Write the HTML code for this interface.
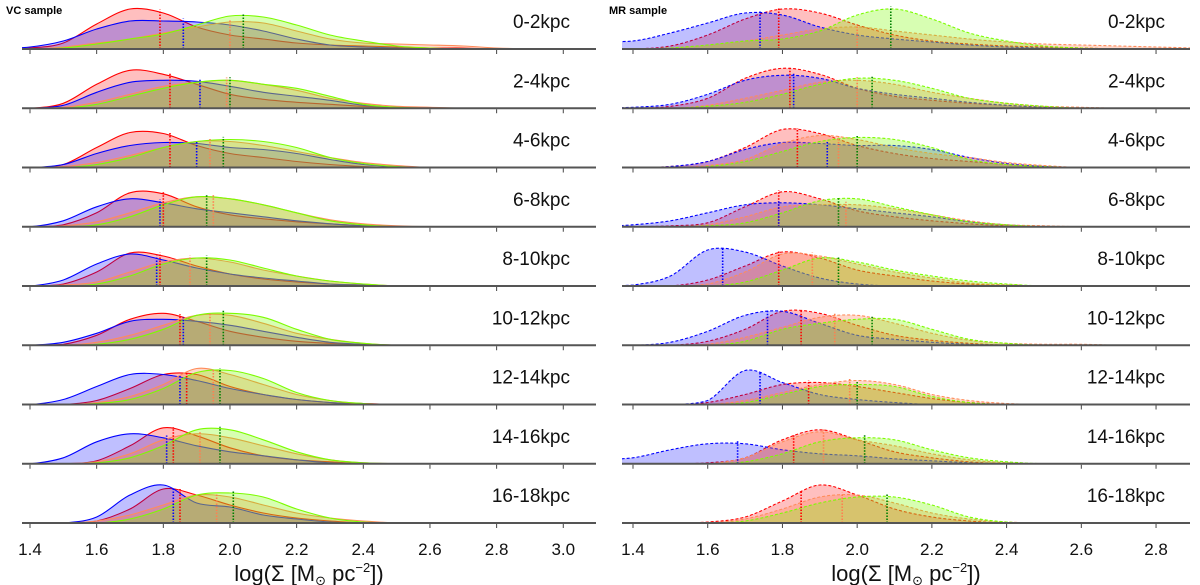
<!DOCTYPE html>
<html><head><meta charset="utf-8"><style>
html,body{margin:0;padding:0;background:#fff;}
svg{display:block;font-family:"Liberation Sans","DejaVu Sans",sans-serif;}
</style></head><body>
<svg id="chart" width="1200" height="585" viewBox="0 0 1200 585" xmlns="http://www.w3.org/2000/svg">
<defs>
<clipPath id="clipL"><rect x="22" y="0" width="574" height="585"/></clipPath>
<clipPath id="clipR"><rect x="622" y="0" width="568" height="585"/></clipPath>
</defs>
<text x="6" y="14" font-size="11" font-weight="bold">VC sample</text>
<text x="609" y="14" font-size="11" font-weight="bold">MR sample</text>
<g id="gL" clip-path="url(#clipL)"></g>
<g id="gR" clip-path="url(#clipR)"></g>
<g id="axes"></g>
</svg>
<script>
const rowLabels = ["0-2kpc","2-4kpc","4-6kpc","6-8kpc","8-10kpc","10-12kpc","12-14kpc","14-16kpc","16-18kpc"];
const gridX = [1.3,1.4,1.5,1.6,1.7,1.8,1.9,2.0,2.1,2.2,2.3,2.4,2.5,2.6,2.7,2.8,2.9,3.0];
const ticksL = ["1.4","1.6","1.8","2.0","2.2","2.4","2.6","2.8","3.0"];
const ticksR = ["1.4","1.6","1.8","2.0","2.2","2.4","2.6","2.8"];

const vcRed = [
[0,1,6,25,40,36,22,14,10,6,4,3,2,1,1,0,0,0],
[0,0,5,24,38,34,24,14,9,6,4,2,1,0,0,0,0,0],
[0,0,3,20,35,34,22,14,10,6,3,1,0,0,0,0,0,0],
[0,0,2,14,34,33,20,12,8,5,3,1,0,0,0,0,0,0],
[0,0,2,14,33,30,20,12,7,4,2,1,0,0,0,0,0,0],
[0,0,1,10,26,32,24,14,8,4,2,1,0,0,0,0,0,0],
[0,0,0,4,16,30,30,18,10,5,2,1,0,0,0,0,0,0],
[0,0,0,3,18,36,28,16,8,4,2,0,0,0,0,0,0,0],
[0,0,0,2,14,34,28,18,10,5,2,0,0,0,0,0,0,0]];
const vcBlue = [
[0,2,8,20,28,28,27,24,18,10,4,2,1,0,0,0,0,0],
[0,0,3,16,26,28,27,22,16,12,8,3,1,0,0,0,0,0],
[0,0,3,14,22,25,24,20,18,14,8,3,1,0,0,0,0,0],
[0,0,6,20,28,24,18,14,10,6,3,1,0,0,0,0,0,0],
[0,0,6,22,32,26,18,12,8,5,2,1,0,0,0,0,0,0],
[0,0,3,12,24,26,24,20,14,8,3,1,0,0,0,0,0,0],
[0,0,5,18,30,30,24,16,10,5,2,0,0,0,0,0,0,0],
[0,0,6,22,30,26,18,12,8,4,1,0,0,0,0,0,0,0],
[0,0,0,6,28,38,20,16,8,4,1,0,0,0,0,0,0,0]];
const vcCoral = [
[0,0,2,6,10,16,22,27,26,18,10,6,5,4,3,1,0,0],
[0,0,1,6,14,22,26,28,24,18,10,5,2,1,0,0,0,0],
[0,0,1,5,12,20,26,26,22,16,10,5,2,0,0,0,0,0],
[0,0,1,5,14,24,30,28,22,14,7,3,1,0,0,0,0,0],
[0,0,1,4,14,24,28,24,16,10,5,2,0,0,0,0,0,0],
[0,0,0,3,10,20,30,30,22,12,6,2,0,0,0,0,0,0],
[0,0,0,2,8,20,36,30,20,10,4,1,0,0,0,0,0,0],
[0,0,0,2,10,24,30,26,18,10,4,1,0,0,0,0,0,0],
[0,0,0,2,8,18,28,26,18,10,5,2,0,0,0,0,0,0]];
const vcGreen = [
[0,0,1,5,10,15,24,33,32,24,14,8,3,1,0,0,0,0],
[0,0,0,4,12,20,26,28,24,20,12,4,1,0,0,0,0,0],
[0,0,0,3,10,20,26,28,26,20,10,4,1,0,0,0,0,0],
[0,0,0,2,10,22,30,28,22,14,6,2,0,0,0,0,0,0],
[0,0,0,2,10,22,28,26,18,10,5,2,0,0,0,0,0,0],
[0,0,0,1,6,16,30,32,28,16,6,2,0,0,0,0,0,0],
[0,0,0,1,5,16,32,34,26,12,4,1,0,0,0,0,0,0],
[0,0,0,1,6,18,34,34,24,12,4,1,0,0,0,0,0,0],
[0,0,0,0,4,14,28,30,26,14,5,1,0,0,0,0,0,0]];
const vcMedRed = [1.79,1.82,1.82,1.80,1.79,1.85,1.87,1.83,1.85];
const vcMedBlue = [1.86,1.91,1.90,1.79,1.78,1.86,1.85,1.81,1.83];
const vcMedCoral = [2.00,1.99,1.94,1.95,1.88,1.94,1.95,1.91,1.96];
const vcMedGreen = [2.04,2.00,1.98,1.93,1.93,1.98,1.97,1.97,2.01];

const mrRed = [
[0,0,3,14,30,40,36,24,14,8,5,3,2,1,0,0,0,0],
[0,0,2,10,30,40,34,20,12,8,5,3,1,0,0,0,0,0],
[0,0,1,6,20,38,34,22,14,9,6,3,1,0,0,0,0,0],
[0,0,1,4,20,35,28,16,10,6,3,1,0,0,0,0,0,0],
[0,0,0,6,20,34,28,16,10,5,2,1,0,0,0,0,0,0],
[0,0,0,4,16,34,32,20,10,5,2,0,0,0,0,0,0,0],
[0,0,0,2,10,20,22,18,12,6,2,0,0,0,0,0,0,0],
[0,0,0,1,6,24,34,24,12,6,2,0,0,0,0,0,0,0],
[0,0,0,1,6,22,38,28,14,6,2,0,0,0,0,0,0,0]];
const mrBlue = [
[8,8,16,26,36,34,22,14,10,7,4,2,1,0,0,0,0,0],
[0,1,4,14,28,33,30,20,14,10,6,3,1,0,0,0,0,0],
[0,0,1,6,18,25,24,22,22,18,10,4,1,0,0,0,0,0],
[0,2,6,14,22,24,22,18,14,10,5,2,0,0,0,0,0,0],
[0,1,10,36,34,20,8,2,0,0,0,0,0,0,0,0,0,0],
[0,0,3,14,30,34,22,10,6,3,1,0,0,0,0,0,0,0],
[0,0,0,4,34,22,10,5,2,0,0,0,0,0,0,0,0,0],
[4,6,14,20,20,14,10,8,5,3,1,0,0,0,0,0,0,0],
[0,0,0,0,0,0,0,0,0,0,0,0,0,0,0,0,0,0]];
const mrCoral = [
[0,0,1,4,8,14,20,22,18,14,10,7,5,4,3,2,1,0],
[0,0,0,3,10,18,26,28,24,16,10,5,2,1,0,0,0,0],
[0,0,0,2,8,24,32,28,20,14,10,5,2,0,0,0,0,0],
[0,0,0,2,10,20,22,22,18,12,6,2,1,0,0,0,0,0],
[0,0,0,2,14,32,30,22,14,8,3,1,0,0,0,0,0,0],
[0,0,0,1,8,18,28,30,22,12,5,2,1,1,0,0,0,0],
[0,0,0,0,4,12,20,24,20,10,4,1,0,0,0,0,0,0],
[0,0,0,0,6,22,32,24,18,10,4,1,0,0,0,0,0,0],
[0,0,0,0,4,14,26,28,20,10,4,1,0,0,0,0,0,0]];
const mrGreen = [
[0,0,1,4,8,10,18,34,40,30,16,8,3,1,0,0,0,0],
[0,0,0,2,6,14,24,30,28,20,10,5,2,0,0,0,0,0],
[0,0,0,1,6,16,26,30,28,20,8,3,1,0,0,0,0,0],
[0,0,0,1,4,14,26,28,20,12,5,2,0,0,0,0,0,0],
[0,0,0,0,4,16,28,24,16,10,5,2,0,0,0,0,0,0],
[0,0,0,0,4,16,22,26,26,16,6,2,0,0,0,0,0,0],
[0,0,0,0,2,10,18,20,18,8,2,0,0,0,0,0,0,0],
[0,0,0,0,2,10,22,26,24,14,6,2,0,0,0,0,0,0],
[0,0,0,0,2,10,20,26,26,18,6,1,0,0,0,0,0,0]];
const mrMedRed = [1.79,1.82,1.84,1.79,1.79,1.85,1.87,1.83,1.85];
const mrMedBlue = [1.74,1.83,1.92,1.79,1.64,1.76,1.74,1.68,null];
const mrMedCoral = [2.00,2.00,1.95,1.97,1.88,1.94,1.98,1.91,1.96];
const mrMedGreen = [2.09,2.04,2.00,1.95,1.95,2.04,2.00,2.02,2.08];

const NS = "http://www.w3.org/2000/svg";
const baseY = r => 49 + r * 59.25;
const xL = v => 30 + (v - 1.4) * 333.3;
const xR = v => 633 + (v - 1.4) * 373.6;

function interp(h, v) {
  const t = (v - gridX[0]) / 0.1;
  const i = Math.max(0, Math.min(h.length - 2, Math.floor(t)));
  const f = t - i;
  return h[i] * (1 - f) + h[i + 1] * f;
}
function pathFor(h, r, xf) {
  const pts = gridX.map((v, i) => [xf(v), baseY(r) - h[i]]);
  let d = "M" + pts[0][0] + "," + baseY(r) + " L" + pts[0][0] + "," + pts[0][1];
  for (let i = 0; i < pts.length - 1; i++) {
    const p0 = pts[Math.max(0, i - 1)], p1 = pts[i], p2 = pts[i + 1], p3 = pts[Math.min(pts.length - 1, i + 2)];
    const c1 = [p1[0] + (p2[0] - p0[0]) / 6, Math.min(baseY(r), p1[1] + (p2[1] - p0[1]) / 6)];
    const c2 = [p2[0] - (p3[0] - p1[0]) / 6, Math.min(baseY(r), p2[1] - (p3[1] - p1[1]) / 6)];
    d += " C" + c1[0].toFixed(1) + "," + c1[1].toFixed(1) + " " + c2[0].toFixed(1) + "," + c2[1].toFixed(1) + " " + p2[0].toFixed(1) + "," + p2[1].toFixed(1);
  }
  d += " L" + pts[pts.length - 1][0] + "," + baseY(r) + " Z";
  return d;
}
const series = [
  {key:"red", fill:"rgba(255,0,0,0.25)", line:"#ff0000", med:"#ff0000"},
  {key:"blue", fill:"rgba(0,0,255,0.25)", line:"#0000ff", med:"#0000ff"},
  {key:"coral", fill:"rgba(255,127,80,0.3)", line:"#ff8c5a", med:"#ff7f50"},
  {key:"green", fill:"rgba(124,252,0,0.3)", line:"#7cfc00", med:"#008000"}
];
const panels = [
  {g:"gL", xf:xL, data:[vcRed, vcBlue, vcCoral, vcGreen], meds:[vcMedRed, vcMedBlue, vcMedCoral, vcMedGreen], dash:null, name:"vc"},
  {g:"gR", xf:xR, data:[mrRed, mrBlue, mrCoral, mrGreen], meds:[mrMedRed, mrMedBlue, mrMedCoral, mrMedGreen], dash:"3,2", name:"mr"}
];
panels.forEach(p => {
  const g = document.getElementById(p.g);
  for (let r = 0; r < 9; r++) {
    series.forEach((s, si) => {
      const h = p.data[si][r];
      if (Math.max(...h) === 0) return;
      const path = document.createElementNS(NS, "path");
      path.setAttribute("d", pathFor(h, r, p.xf));
      path.setAttribute("fill", s.fill);
      path.setAttribute("stroke", s.line);
      path.setAttribute("stroke-width", "1.1");
      if (p.dash) path.setAttribute("stroke-dasharray", p.dash);
      
      
      g.appendChild(path);
    });
    series.forEach((s, si) => {
      const m = p.meds[si][r];
      if (m === null) return;
      const hh = interp(p.data[si][r], m) + 3;
      const ln = document.createElementNS(NS, "line");
      ln.setAttribute("x1", p.xf(m)); ln.setAttribute("x2", p.xf(m));
      ln.setAttribute("y1", baseY(r)); ln.setAttribute("y2", baseY(r) - hh);
      ln.setAttribute("stroke", s.med);
      ln.setAttribute("stroke-width", "1.6");
      ln.setAttribute("stroke-dasharray", "1.5,1.5");
      
      
      g.appendChild(ln);
    });
  }
});
const ax = document.getElementById("axes");
function add(tag, attrs, text) {
  const e = document.createElementNS(NS, tag);
  for (const k in attrs) e.setAttribute(k, attrs[k]);
  if (text) e.textContent = text;
  ax.appendChild(e);
  return e;
}
[{x0:22,x1:596,xf:xL,ticks:ticksL,lx:570,tx:309},{x0:622,x1:1190,xf:xR,ticks:ticksR,lx:1165,tx:906}].forEach((a, pi) => {
  for (let r = 0; r < 9; r++) {
    const b = baseY(r);
    const bl = add("line", {x1:a.x0, x2:a.x1, y1:b, y2:b, stroke:"#555", "stroke-width":"2"});
    
    
    a.ticks.forEach(t => {
      const tk = add("line", {x1:a.xf(+t), x2:a.xf(+t), y1:b + 1, y2:b + 5, stroke:"#444", "stroke-width":"1"});
      
      
    });
    const lab = add("text", {x:a.lx, y:b - 21, "font-size":"19", "text-anchor":"end", fill:"#111"}, rowLabels[r]);
    
    
  }
  a.ticks.forEach(t => {
    const tl = add("text", {x:a.xf(+t), y:555, "font-size":"17", "text-anchor":"middle", fill:"#111"}, t);
    
    
  });
  const tt = add("text", {x:a.tx, y:581, "font-size":"22", "text-anchor":"middle", fill:"#111"});
  tt.innerHTML = 'log(Σ [M<tspan font-size="13" dy="4">⊙</tspan><tspan dy="-4"> pc</tspan><tspan font-size="13" dy="-9">−2</tspan><tspan dy="9">])</tspan>';
  
  
});
</script>
</body></html>
